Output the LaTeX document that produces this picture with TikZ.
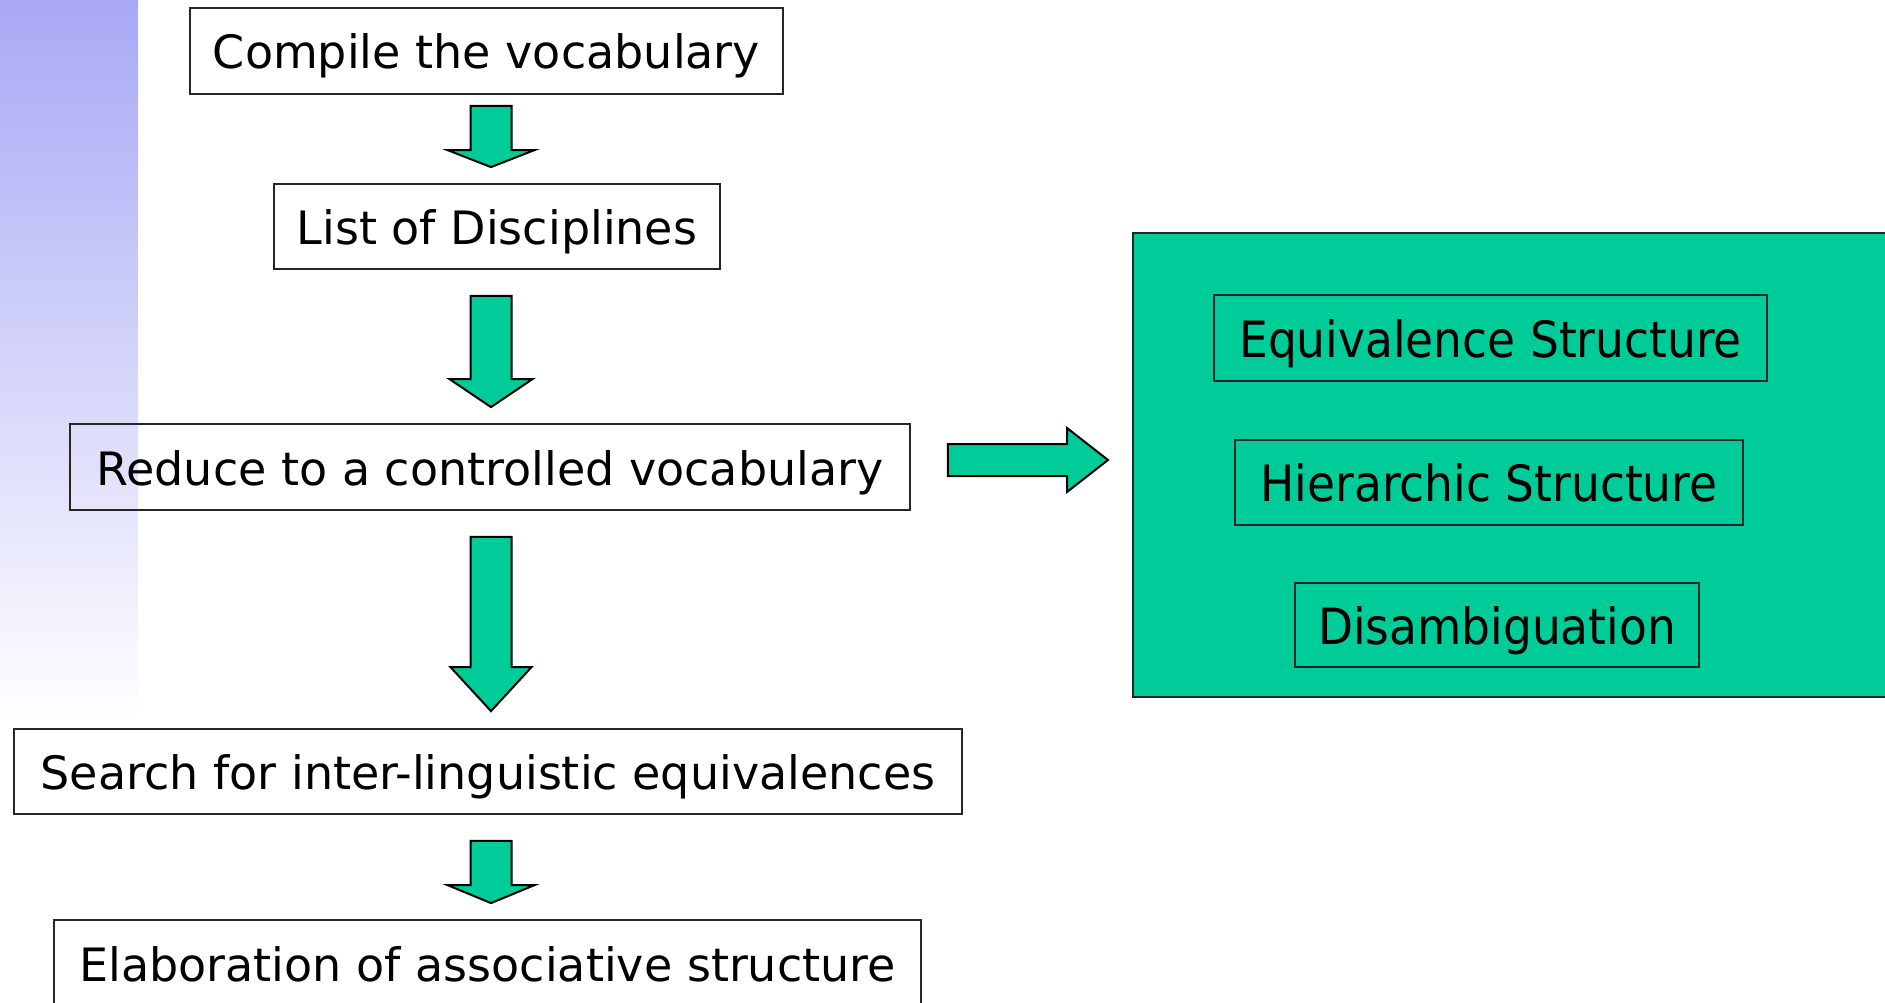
\documentclass[tikz,border=0pt]{standalone}
\usepackage{fontspec}
\setmainfont{DejaVu Sans}
\newfontfamily\narrowfont[FakeStretch=0.91]{DejaVu Sans}
\usepackage{tikz}
\usetikzlibrary{calc,positioning}
\definecolor{sea}{RGB}{0,204,153}
\definecolor{lilac}{RGB}{168,168,245}
\tikzset{
	stepbox/.style={draw=black!85,line width=1.8pt,inner sep=0pt,
		font=\fontsize{46}{55}\selectfont,text height=40pt,text depth=4pt},
	subbox/.style={draw=black!85,line width=1.8pt,inner sep=0pt,
		font=\narrowfont\fontsize{50}{60}\selectfont,text height=42pt,text depth=4pt},
	fatarrow/.style={draw=black,fill=sea,line width=2pt,line join=miter}
}
% fat arrow pointing down: from, to, gap above, gap below, head length, head half width
\newcommand{\fatdown}[6]{%
	\draw[fatarrow] let \p1=(#1.south), \p2=(#2.north) in
		(470.5pt,\y1-#3)--(511.5pt,\y1-#3)--(511.5pt,\y2+#4+#5)
		--(491pt+#6,\y2+#4+#5)--(491pt,\y2+#4)--(491pt-#6,\y2+#4+#5)
		--(470.5pt,\y2+#4+#5)-- cycle;}
\begin{document}
\begin{tikzpicture}[x=1pt,y=-1pt]
				%\draw[color=gray,step=10pt, help lines,opacity=0.3] (0,0) grid (1885,1003); %help grids
				\useasboundingbox (0,0) rectangle (1885,1003);
				\shade[top color=lilac,bottom color=white] (0,0) rectangle (138,720);

				\node[stepbox,minimum width=593pt,minimum height=86pt] (compile) at (486.5,51) {Compile the vocabulary};
				\node[stepbox,minimum width=446pt,minimum height=85pt] (list) at (497,226.5) {List of Disciplines};
				\node[stepbox,minimum width=840pt,minimum height=86pt] (reduce) at (490,467) {Reduce to a controlled vocabulary};
				\node[stepbox,minimum width=948pt,minimum height=85pt] (search) at (488,771.5) {Search for inter-linguistic equivalences};
				\node[stepbox,minimum width=867pt,minimum height=86pt] (elab) at (487.5,963) {Elaboration of associative structure};

				\fatdown{compile}{list}{11pt}{16pt}{17pt}{43.5pt}
				\fatdown{list}{reduce}{26pt}{16pt}{28pt}{41.5pt}
				\fatdown{reduce}{search}{26pt}{17pt}{44pt}{40.5pt}
				\fatdown{search}{elab}{26pt}{16pt}{18pt}{43.5pt}

				% right hand block
				\node[draw=black!85,line width=1.8pt,fill=sea,minimum width=770pt,minimum height=464pt,anchor=north west] (structures) at (1132,232) {};
				\node[subbox,minimum width=553pt,minimum height=86pt] (equiv) at (1490.5,338) {Equivalence Structure};
				\node[subbox,minimum width=508pt,minimum height=85pt] (hier) at (1489,482.5) {Hierarchic Structure};
				\node[subbox,minimum width=404pt,minimum height=84pt] (disamb) at (1497,625) {Disambiguation};

				\draw[fatarrow] let \p1=(reduce.east), \p2=(structures.west) in
					(\x1+37pt,-444pt)--(\x2-65pt,-444pt)--(\x2-65pt,-428pt)--(\x2-24pt,-460pt)
					--(\x2-65pt,-492pt)--(\x2-65pt,-476pt)--(\x1+37pt,-476pt)-- cycle;
\end{tikzpicture}
\end{document}
